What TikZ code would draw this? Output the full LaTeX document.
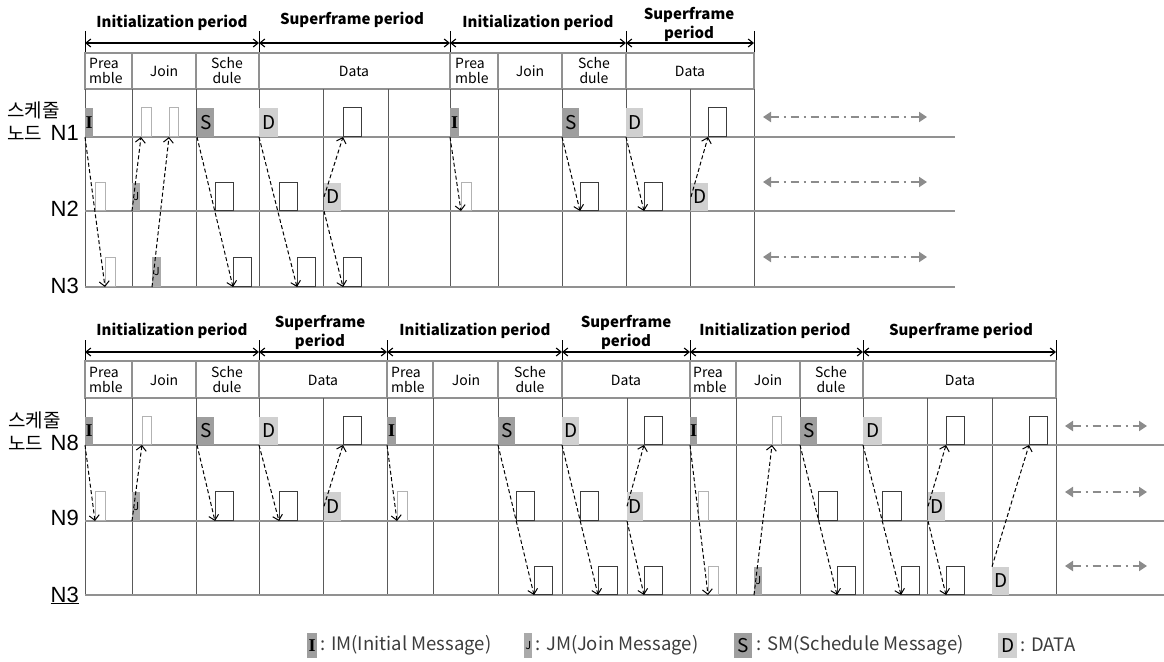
\documentclass[tikz,border=0pt]{standalone}
\usepackage{fontspec}
\setmainfont{Noto Sans CJK KR}
\newfontfamily\arialf{Liberation Sans}
\newfontfamily\seriff{Liberation Serif}
\usetikzlibrary{arrows.meta}
\definecolor{dkc}{RGB}{158,158,158}
\definecolor{jc}{RGB}{170,170,170}
\definecolor{ltc}{RGB}{208,208,208}
\definecolor{vgc}{RGB}{90,90,90}
\definecolor{hgc}{RGB}{145,145,145}
\definecolor{thinc}{RGB}{178,178,178}
\definecolor{wbc}{RGB}{60,60,60}
\definecolor{sidec}{RGB}{140,140,140}
\definecolor{legc}{RGB}{60,60,60}
\newcommand\mb[7]{\node[#2, minimum width=#5pt, minimum height=#6pt] (#1) at (#3,#4) {#7};}
\newcommand\LI{\makebox[0pt]{\seriff\bfseries\fontsize{18}{18}\selectfont I}}
\newcommand\LS{\makebox[0pt]{\fontsize{19}{19}\selectfont S}}
\newcommand\LD{\makebox[0pt]{\fontsize{19}{19}\selectfont D}}
\newcommand\LJ{\makebox[0pt]{\fontsize{11}{11}\selectfont J}}
\begin{document}
\begin{tikzpicture}[x=1pt,y=-1pt,
  vline/.style={draw=vgc, line width=1pt},
  hline/.style={draw=hgc, line width=1.3pt},
  hdr/.style={draw=hgc, line width=1.2pt},
  per/.style={line width=1.1pt, {Straight Barb[length=5pt,width=8pt]}-{Straight Barb[length=5pt,width=8pt]}},
  tick/.style={line width=1pt},
  msgbase/.style={rectangle, inner sep=0pt, anchor=south west},
  dk/.style={msgbase, fill=dkc},
  jbox/.style={msgbase, fill=jc},
  lt/.style={msgbase, fill=ltc},
  thin/.style={msgbase, draw=thinc, fill=white, line width=1.1pt},
  wb/.style={msgbase, draw=wbc, fill=white, line width=1pt},
  sig/.style={line width=1pt, dash pattern=on 4pt off 2.5pt, -{Straight Barb[length=5pt,width=10pt]}},
  side/.style={draw=sidec, line width=2pt, dash pattern=on 8pt off 5pt on 2pt off 5pt, {Triangle[length=8pt,width=10pt]}-{Triangle[length=8pt,width=10pt]}},
  plabel/.style={font=\bfseries\fontsize{15}{19}\selectfont, align=center, inner sep=0pt},
  hlabel/.style={font=\fontsize{14}{15}\selectfont, align=center, inner sep=0pt},
  pre/.style={font=\fontsize{14}{15}\selectfont, align=left, anchor=west, inner sep=0pt},
  nlabel/.style={font=\arialf\fontsize{22}{22}\selectfont, anchor=base east, inner sep=0pt},
  krlabel/.style={font=\fontsize{19}{19}\selectfont, anchor=base west, inner sep=0pt},
  legend/.style={font=\fontsize{18.5}{18.5}\selectfont, text=legc, anchor=west, inner sep=0pt}
]
\useasboundingbox (0,0) rectangle (1164,661);

% ================= TOP DIAGRAM =================
\foreach \x in {85,259,450,626,754} \draw[tick] (\x,31) -- (\x,53);
\coordinate (ta0) at (85,43); \coordinate (ta1) at (259,43); \coordinate (ta2) at (450,43);
\coordinate (ta3) at (626,43); \coordinate (ta4) at (754,43);
\draw[per] (ta0) -- (ta1); \draw[per] (ta1) -- (ta2); \draw[per] (ta2) -- (ta3); \draw[per] (ta3) -- (ta4);
\node[plabel] (tl1) at (172,23) {Initialization period};
\node[plabel] (tl2) at (352,20) {Superframe period};
\node[plabel] (tl3) at (538,23) {Initialization period};
\node[plabel] (tl4) at (689,24) {Superframe\\period};

\draw[hdr] (85,53) rectangle (754,89);
\foreach \x in {132,196,259,450,498,562,626} \draw[hdr] (\x,53) -- (\x,89);
\foreach \x in {85,132,196,259,323,388,450,498,562,626,690,754} \draw[vline] (\x,89) -- (\x,287);
\foreach \y in {137,211,287} \draw[hline] (85,\y) -- (955,\y);

\node[pre] (th1) at (89,71) {Prea\\mble};
\node[hlabel] (th2) at (164,71) {Join};
\node[hlabel] (th3) at (227,71) {Sche\\dule};
\node[hlabel] (th4) at (354,71) {Data};
\node[pre] (th5) at (455,71) {Prea\\mble};
\node[hlabel] (th6) at (530,71) {Join};
\node[hlabel] (th7) at (594,71) {Sche\\dule};
\node[hlabel] (th8) at (690,71) {Data};

\node[krlabel] (tk1) at (7,117) {스케줄};
\node[krlabel] (tk2) at (7,140) {노드};
\node[nlabel] (tn1) at (79,140) {N1};
\node[nlabel] (tn2) at (79,216) {N2};
\node[nlabel] (tn3) at (79,293) {N3};

% block A
\mb{tI1}{dk}{85}{137}{8}{29}{\LI}
\mb{tP2}{thin}{95}{211}{10}{28}{}
\mb{tP3}{thin}{105}{287}{10}{29}{}
\mb{tJ2}{jbox}{132}{211}{8}{28}{\LJ}
\mb{tJ3}{jbox}{152}{287}{9}{30}{\LJ}
\mb{tJ1a}{thin}{141}{137}{10}{29}{}
\mb{tJ1b}{thin}{169}{137}{9}{29}{}
\mb{tS1}{dk}{197}{137}{17}{29}{\LS}
\mb{tS2}{wb}{215}{211}{18}{28}{}
\mb{tS3}{wb}{233}{287}{18}{29}{}
\mb{tD1}{lt}{259}{137}{19}{29}{\LD}
\mb{tD2w}{wb}{279}{211}{18}{28}{}
\mb{tD3w}{wb}{297}{287}{18}{29}{}
\mb{tD2}{lt}{324}{211}{17}{28}{\LD}
\mb{tD1w}{wb}{343}{137}{18}{29}{}
\mb{tD3x}{wb}{343}{287}{18}{29}{}
\draw[sig] (tI1.south west) -- (tP3.south west);
\draw[sig] (tJ2.south west) -- (tJ1a.south west);
\draw[sig] (tJ3.south west) -- (tJ1b.south west);
\draw[sig] (tS1.south west) -- (tS3.south west);
\draw[sig] (tD1.south west) -- (tD3w.south west);
\draw[sig] (tD2.west) -- (tD1w.south west);
\draw[sig] (tD2.south west) -- (tD3x.south west);
% block B
\mb{uI1}{dk}{450}{137}{9}{29}{\LI}
\mb{uP2}{thin}{461}{211}{10}{28}{}
\mb{uS1}{dk}{562}{137}{17}{29}{\LS}
\mb{uS2}{wb}{580}{211}{18}{28}{}
\mb{uD1}{lt}{626}{137}{17}{29}{\LD}
\mb{uD2w}{wb}{644}{211}{18}{28}{}
\mb{uD2}{lt}{691}{211}{17}{28}{\LD}
\mb{uD1w}{wb}{708}{137}{18}{29}{}
\draw[sig] (uI1.south west) -- (uP2.south west);
\draw[sig] (uS1.south west) -- (uS2.south west);
\draw[sig] (uD1.south west) -- (uD2w.south west);
\draw[sig] (uD2.west) -- (uD1w.south west);

\coordinate (s1a) at (763,117); \coordinate (s1b) at (927,117);
\coordinate (s2a) at (763,182); \coordinate (s2b) at (927,182);
\coordinate (s3a) at (763,257); \coordinate (s3b) at (927,257);
\draw[side] (s1a) -- (s1b); \draw[side] (s2a) -- (s2b); \draw[side] (s3a) -- (s3b);

% ================= BOTTOM DIAGRAM =================
\foreach \x in {85,259,387,562,690,863,1056} \draw[tick] (\x,340) -- (\x,361);
\coordinate (ba0) at (85,352); \coordinate (ba1) at (259,352); \coordinate (ba2) at (387,352);
\coordinate (ba3) at (562,352); \coordinate (ba4) at (690,352); \coordinate (ba5) at (863,352);
\coordinate (ba6) at (1056,352);
\draw[per] (ba0) -- (ba1); \draw[per] (ba1) -- (ba2); \draw[per] (ba2) -- (ba3);
\draw[per] (ba3) -- (ba4); \draw[per] (ba4) -- (ba5); \draw[per] (ba5) -- (ba6);
\node[plabel] (bl1) at (172,331) {Initialization period};
\node[plabel] (bl2) at (320,332) {Superframe\\period};
\node[plabel] (bl3) at (475,331) {Initialization period};
\node[plabel] (bl4) at (626,332) {Superframe\\period};
\node[plabel] (bl5) at (775,331) {Initialization period};
\node[plabel] (bl6) at (961,331) {Superframe period};

\draw[hdr] (85,361) rectangle (1056,398);
\foreach \x in {132,196,259,387,433,498,562,690,736,800,863} \draw[hdr] (\x,361) -- (\x,398);
\foreach \x in {85,132,196,259,323,387,433,498,562,627,690,736,800,863,927,992,1056} \draw[vline] (\x,398) -- (\x,595);
\foreach \y in {445,521,595} \draw[hline] (85,\y) -- (1164,\y);

\node[pre] (bh1) at (89,380) {Prea\\mble};
\node[hlabel] (bh2) at (164,380) {Join};
\node[hlabel] (bh3) at (227,380) {Sche\\dule};
\node[hlabel] (bh4) at (323,380) {Data};
\node[pre] (bh5) at (391,380) {Prea\\mble};
\node[hlabel] (bh6) at (466,380) {Join};
\node[hlabel] (bh7) at (530,380) {Sche\\dule};
\node[hlabel] (bh8) at (626,380) {Data};
\node[pre] (bh9) at (693,380) {Prea\\mble};
\node[hlabel] (bh10) at (768,380) {Join};
\node[hlabel] (bh11) at (831,380) {Sche\\dule};
\node[hlabel] (bh12) at (960,380) {Data};

\node[krlabel] (bk1) at (8,427) {스케줄};
\node[krlabel] (bk2) at (8,450) {노드};
\node[nlabel] (bn1) at (79,450) {N8};
\node[nlabel] (bn2) at (79,525) {N9};
\node[nlabel] (bn3) at (79,602) {\underline{N3}};

% block 1
\mb{aI1}{dk}{85}{445}{8}{28}{\LI}
\mb{aP2}{thin}{95}{521}{10}{29}{}
\mb{aJ2}{jbox}{132}{521}{8}{29}{\LJ}
\mb{aJ1}{thin}{142}{445}{9}{28}{}
\mb{aS1}{dk}{197}{445}{17}{28}{\LS}
\mb{aS2}{wb}{215}{521}{18}{29}{}
\mb{aD1}{lt}{259}{445}{19}{28}{\LD}
\mb{aD2w}{wb}{279}{521}{18}{29}{}
\mb{aD2}{lt}{324}{521}{17}{29}{\LD}
\mb{aD1w}{wb}{343}{445}{18}{28}{}
\draw[sig] (aI1.south west) -- (aP2.south west);
\draw[sig] (aJ2.south west) -- (aJ1.south west);
\draw[sig] (aS1.south west) -- (aS2.south west);
\draw[sig] (aD1.south west) -- (aD2w.south west);
\draw[sig] (aD2.west) -- (aD1w.south west);
% block 2
\mb{cI1}{dk}{387}{445}{9}{28}{\LI}
\mb{cP2}{thin}{397}{521}{10}{29}{}
\mb{cS1}{dk}{498}{445}{17}{28}{\LS}
\mb{cS2}{wb}{516}{521}{18}{29}{}
\mb{cS3}{wb}{534}{595}{18}{28}{}
\mb{cD1}{lt}{562}{445}{17}{28}{\LD}
\mb{cD2w}{wb}{580}{521}{18}{29}{}
\mb{cD3w}{wb}{598}{595}{19}{28}{}
\mb{cD2}{lt}{627}{521}{16}{29}{\LD}
\mb{cD1w}{wb}{644}{445}{18}{28}{}
\mb{cD3x}{wb}{644}{595}{18}{28}{}
\draw[sig] (cI1.south west) -- (cP2.south west);
\draw[sig] (cS1.south west) -- (cS3.south west);
\draw[sig] (cD1.south west) -- (cD3w.south west);
\draw[sig] (cD2.west) -- (cD1w.south west);
\draw[sig] (cD2.south west) -- (cD3x.south west);
% block 3
\mb{dI1}{dk}{690}{445}{7}{28}{\LI}
\mb{dP2}{thin}{698}{521}{10}{29}{}
\mb{dP3}{thin}{708}{595}{10}{28}{}
\mb{dJ3}{jbox}{754}{595}{8}{28}{\LJ}
\mb{dJ1}{thin}{772}{445}{9}{28}{}
\mb{dS1}{dk}{800}{445}{17}{28}{\LS}
\mb{dS2}{wb}{818}{521}{19}{29}{}
\mb{dS3}{wb}{837}{595}{18}{28}{}
\mb{dD1}{lt}{863}{445}{19}{28}{\LD}
\mb{dD2w}{wb}{882}{521}{19}{29}{}
\mb{dD3w}{wb}{901}{595}{18}{28}{}
\mb{dD2}{lt}{928}{521}{17}{29}{\LD}
\mb{dD1w}{wb}{946}{445}{18}{28}{}
\mb{dD3x}{wb}{946}{595}{18}{28}{}
\mb{dD3}{lt}{992}{595}{17}{28}{\LD}
\mb{dD1x}{wb}{1029}{445}{18}{28}{}
\draw[sig] (dI1.south west) -- (dP3.south west);
\draw[sig] (dJ3.south west) -- (dJ1.south west);
\draw[sig] (dS1.south west) -- (dS3.south west);
\draw[sig] (dD1.south west) -- (dD3w.south west);
\draw[sig] (dD2.west) -- (dD1w.south west);
\draw[sig] (dD2.south west) -- (dD3x.south west);
\draw[sig] (dD3.north west) -- (dD1x.south west);

\coordinate (r1a) at (1065,426); \coordinate (r1b) at (1147,426);
\coordinate (r2a) at (1065,492); \coordinate (r2b) at (1147,492);
\coordinate (r3a) at (1065,566); \coordinate (r3b) at (1147,566);
\draw[side] (r1a) -- (r1b); \draw[side] (r2a) -- (r2b); \draw[side] (r3a) -- (r3b);

% ================= LEGEND =================
\mb{lgI}{dk}{307}{658}{10}{25}{\LI}
\node[legend] (lgIt) at ([xshift=3pt]lgI.east) {: IM(Initial Message)};
\mb{lgJ}{jbox}{524}{658}{8}{25}{\LJ}
\node[legend] (lgJt) at ([xshift=3pt]lgJ.east) {: JM(Join Message)};
\mb{lgS}{dk}{734}{658}{18}{25}{\LS}
\node[legend] (lgSt) at ([xshift=4pt]lgS.east) {: SM(Schedule Message)};
\mb{lgD}{lt}{998}{658}{19}{25}{\LD}
\node[legend] (lgDt) at ([xshift=3pt]lgD.east) {: DATA};
\end{tikzpicture}
\end{document}
